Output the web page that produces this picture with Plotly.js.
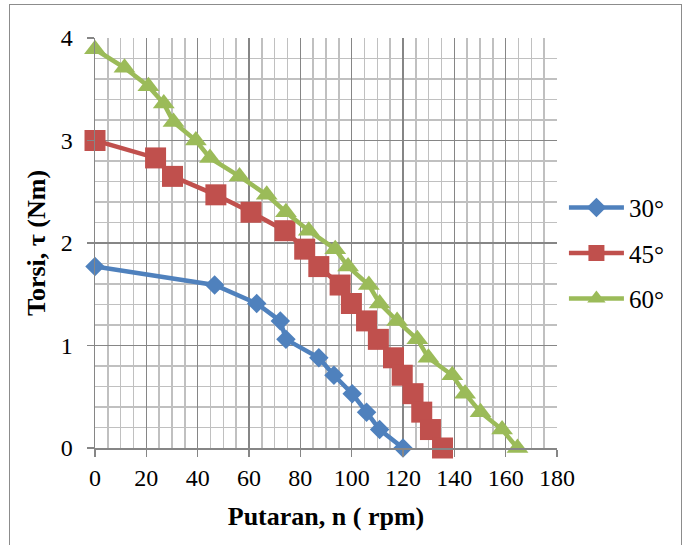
<!DOCTYPE html>
<html>
<head>
<meta charset="utf-8">
<script src="https://cdn.plot.ly/plotly-3.0.1.min.js"></script>
<style>
  html, body { margin: 0; padding: 0; background: #fff; }
  #wrap { position: relative; width: 682px; height: 545px; overflow: hidden; }
  #chart { position: absolute; left: 0; top: 0; width: 682px; height: 545px; }
  #frame { position: absolute; left: 9px; top: 4px; width: 671px; height: 560px;
           border: 1.5px solid #8c8c8c; pointer-events: none; }
</style>
</head>
<body>
<div id="wrap">
  <div id="chart"></div>
  <div id="frame"></div>
</div>
<script>
// Data
const seriesNames = ["30°", "45°", "60°"];

const rpm30 = [0, 46.6, 63.0, 72.2, 74.4, 87.2, 93.1, 100.2, 105.8, 110.9, 120];
const torque30 = [1.77, 1.59, 1.41, 1.24, 1.06, 0.88, 0.71, 0.53, 0.35, 0.18, 0];

const rpm45 = [0, 23.6, 30.2, 47.1, 60.8, 74.0, 81.7, 87.2, 95.5, 99.9, 105.8, 110.4, 116.3, 119.7, 123.9, 127.3, 130.7, 135.4];
const torque45 = [3.00, 2.83, 2.65, 2.47, 2.30, 2.12, 1.94, 1.77, 1.59, 1.41, 1.24, 1.06, 0.88, 0.71, 0.53, 0.35, 0.18, 0];

const rpm60 = [0, 11.5, 20.8, 26.8, 30.6, 39.3, 44.8, 56.3, 66.9, 74.4, 83.3, 93.6, 98.6, 106.7, 110.9, 117.7, 125.6, 129.9, 139.2, 144.2, 150.2, 158.6, 164.6];
const torque60 = [3.89, 3.71, 3.53, 3.36, 3.18, 3.00, 2.83, 2.65, 2.47, 2.30, 2.12, 1.94, 1.77, 1.59, 1.41, 1.24, 1.06, 0.88, 0.71, 0.53, 0.35, 0.18, 0];

const xTickVals = [0, 20, 40, 60, 80, 100, 120, 140, 160, 180];
const yTickVals = [0, 1, 2, 3, 4];

const colors = ["#4F81BD", "#C0504D", "#9BBB59"];
const symbols = ["diamond", "square", "triangle-up"];
const sizes = [15, 21, 19];

const xs = [rpm30, rpm45, rpm60];
const ys = [torque30, torque45, torque60];

const traces = seriesNames.map((name, i) => ({
  type: "scatter",
  mode: "lines+markers",
  name: name,
  x: xs[i],
  y: ys[i],
  legendgroup: "g" + i,
  cliponaxis: false,
  line: { color: colors[i], width: 4.5 },
  marker: { symbol: symbols[i], size: sizes[i], color: colors[i] }
}));

const serif = "Liberation Serif";

const layout = {
  width: 682,
  height: 545,
  font: { family: serif, color: "#000" },
  margin: { l: 94.5, r: 124.5, t: 37.5, b: 97 },
  paper_bgcolor: "#ffffff",
  plot_bgcolor: "#ffffff",
  showlegend: true,
  legend: {
    x: 1.015, xanchor: "left",
    y: 0.475, yanchor: "middle",
    traceorder: "grouped",
    tracegroupgap: 10,
    font: { family: serif, size: 25, color: "#000" },
    bgcolor: "rgba(0,0,0,0)",
    itemwidth: 55
  },
  xaxis: {
    range: [0, 180],
    tickvals: xTickVals,
    ticktext: xTickVals.map(String),
    showgrid: true,
    gridcolor: "#868686",
    gridwidth: 1.5,
    minor: { dtick: 5, tick0: 0, showgrid: true, gridcolor: "#c0c0c0", gridwidth: 1.5, ticks: "" },
    showline: true,
    linecolor: "#868686",
    linewidth: 1.5,
    ticks: "outside",
    ticklen: 7,
    tickcolor: "#868686",
    tickwidth: 1.5,
    ticklabelstandoff: 1,
    zeroline: false,
    tickfont: { family: serif, size: 24, color: "#000" },
    title: { text: "<b>Putaran, n ( rpm)</b>", font: { family: serif, size: 26, color: "#000" }, standoff: 16 },
    automargin: false
  },
  yaxis: {
    range: [0, 4],
    tickvals: yTickVals,
    ticktext: yTickVals.map(String),
    showgrid: true,
    gridcolor: "#868686",
    gridwidth: 1.5,
    minor: { dtick: 0.2, tick0: 0, showgrid: true, gridcolor: "#c0c0c0", gridwidth: 1.5, ticks: "" },
    showline: true,
    linecolor: "#868686",
    linewidth: 1.5,
    ticks: "outside",
    ticklen: 7,
    tickcolor: "#868686",
    tickwidth: 1.5,
    ticklabelstandoff: 9,
    zeroline: false,
    tickfont: { family: serif, size: 24, color: "#000" },
    title: { text: "<b>Torsi, τ (Nm)</b>", font: { family: serif, size: 26, color: "#000" }, standoff: 7 },
    automargin: false
  }
};

Plotly.newPlot("chart", traces, layout, { staticPlot: true, displayModeBar: false });
</script>
</body>
</html>
